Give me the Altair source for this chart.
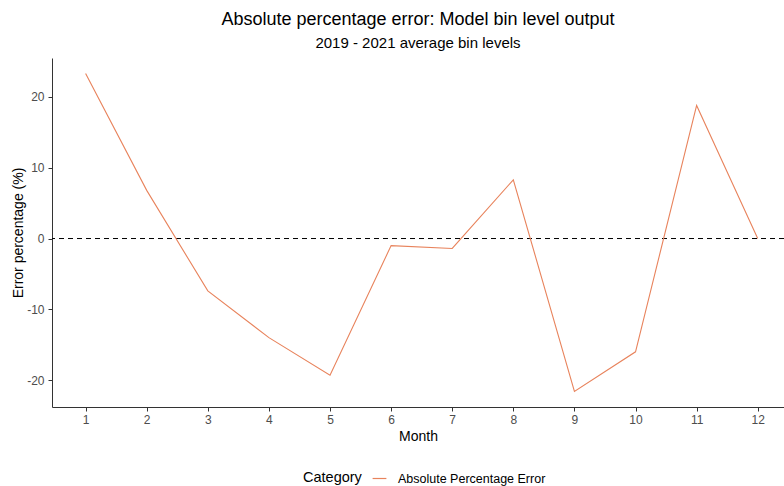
import altair as alt
import pandas as pd

months = [1, 2, 3, 4, 5, 6, 7, 8, 9, 10, 11, 12]
errors = [23.3, 6.8, -7.4, -14.0, -19.3, -1.0, -1.4, 8.3, -21.6, -16.0, 18.8, 0.0]
category = "Absolute Percentage Error"
x_ticks = months
y_ticks = [-20, -10, 0, 10, 20]

df = pd.DataFrame({"Month": months, "Error": errors, "Category": [category] * len(months)})
zero = pd.DataFrame({"y": [0]})

FONT = "Liberation Sans"

line = alt.Chart(df).mark_line(strokeWidth=1.1, clip=True).encode(
    x=alt.X("Month:Q", scale=alt.Scale(domain=[0.45, 12.43], nice=False, zero=False),
            axis=alt.Axis(values=x_ticks, title="Month", grid=False, tickSize=4,
                          labelColor="#4D4D4D", labelFontSize=12, titleFontSize=14,
                          titleFontWeight="normal", titleColor="#000000",
                          domainColor="#333333", tickColor="#333333", labelPadding=3,
                          titlePadding=4)),
    y=alt.Y("Error:Q", scale=alt.Scale(domain=[-23.8, 25.5], nice=False, zero=False),
            axis=alt.Axis(values=y_ticks, title="Error percentage (%)", grid=False, tickSize=4,
                          labelExpr="datum.value < 0 ? '-' + abs(datum.value) : '' + datum.value",
                          labelColor="#4D4D4D", labelFontSize=12, titleFontSize=14,
                          titleFontWeight="normal", titleColor="#000000",
                          domainColor="#333333", tickColor="#333333", labelPadding=4,
                          titlePadding=1)),
    color=alt.Color("Category:N", scale=alt.Scale(range=["#E8835C"]),
                    legend=alt.Legend(title="Category", orient="none", direction="horizontal",
                                      titleOrient="left", legendX=251, legendY=413,
                                      symbolType="stroke", symbolStrokeWidth=1.2,
                                      symbolSize=190, titleFontSize=14.5,
                                      titleFontWeight="normal", labelFontSize=12.5,
                                      titleColor="#000000", labelColor="#000000",
                                      titlePadding=10, labelOffset=11)),
)

rule = alt.Chart(zero).mark_rule(strokeDash=[5, 4], color="#000000", strokeWidth=1).encode(
    y=alt.Y("y:Q")
)

chart = alt.layer(rule, line).properties(
    width=732,
    height=349,
    title=alt.TitleParams(
        text="Absolute percentage error: Model bin level output",
        subtitle="2019 - 2021 average bin levels",
        fontSize=18, fontWeight="normal", subtitleFontSize=15,
        color="#000000", subtitleColor="#000000",
        anchor="middle", offset=7, subtitlePadding=7, font=FONT, subtitleFont=FONT,
    ),
    autosize=alt.AutoSizeParams(type="none"),
    padding={"left": 52, "top": 58, "right": 0, "bottom": 79},
).configure(font=FONT).configure_view(stroke=None).configure_axis(
    labelFont=FONT, titleFont=FONT
).configure_legend(labelFont=FONT, titleFont=FONT)

chart.save("out.html", embed_options={"renderer": "svg", "actions": False})
